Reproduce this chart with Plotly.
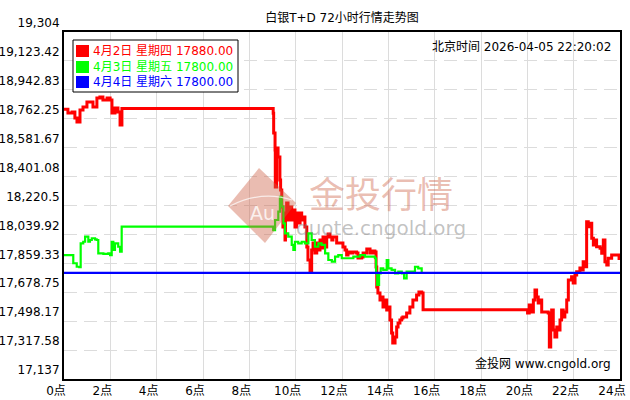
import plotly.graph_objects as go

# ---------------- data ----------------
red_name = "4月2日 星期四"
green_name = "4月3日 星期五"
blue_name = "4月4日 星期六"

red_hours = [0.00, 0.17, 0.35, 0.47, 0.56, 0.69, 0.82, 0.99, 1.12, 1.25, 1.42, 1.55, 1.68, 1.86, 1.99,
             2.07, 2.20, 2.33, 2.42, 2.50, 8.97, 9.03, 9.05, 9.11, 9.12, 9.18, 9.24, 9.32, 9.35, 9.40,
             9.45, 9.54, 9.56, 9.61, 9.67, 9.76, 9.83, 9.90, 9.97, 10.04, 10.10, 10.19, 10.26, 10.32,
             10.40, 10.48, 10.53, 10.62, 10.69, 10.75, 10.83, 10.91, 10.96, 11.05, 11.12, 11.18, 11.27,
             11.34, 11.40, 11.48, 11.56, 11.61, 11.77, 11.91, 12.04, 12.13, 12.20, 12.26, 12.34, 12.47,
             12.63, 12.69, 12.78, 12.85, 12.91, 13.07, 13.21, 13.34, 13.42, 13.47, 13.50, 13.55, 13.64,
             13.71, 13.77, 13.86, 13.93, 13.98, 14.07, 14.14, 14.19, 14.29, 14.36, 14.42, 14.50, 14.58,
             14.63, 14.79, 14.93, 15.06, 15.22, 15.32, 15.44, 15.50, 19.97, 20.01, 20.08, 20.16, 20.26,
             20.33, 20.40, 20.47, 20.54, 20.62, 20.84, 20.90, 20.95, 21.01, 21.05, 21.12, 21.19, 21.27,
             21.34, 21.41, 21.48, 21.55, 21.62, 21.70, 21.77, 21.84, 21.91, 21.98, 22.06, 22.13, 22.27,
             22.35, 22.41, 22.49, 22.56, 22.63, 22.70, 22.78, 22.85, 22.92, 22.99, 23.14, 23.21, 23.28,
             23.35, 23.43, 23.49, 23.57, 23.64, 23.85, 23.96]
red_prices = [18821, 18798, 18804, 18767, 18742, 18817, 18836, 18867, 18867, 18836, 18892, 18898, 18879, 18892, 18879,
              18798, 18829, 18804, 18723, 18826, 18826, 18796, 18673, 18567, 18336, 18580, 18523, 18380, 18317, 18211,
              18086, 18005, 18174, 18236, 18130, 18211, 18130, 18192, 18086, 18174, 18111, 18174, 18130, 18149,
              18086, 17961, 17880, 17805, 17943, 17986, 17924, 17986, 17943, 18005, 17955, 18024, 17961,
              18024, 18043, 18024, 18005, 18024, 17986, 17986, 17961, 17943, 17911, 17930, 17924, 17930,
              17924, 17893, 17893, 17899, 17924, 17949, 17924, 17936, 17930, 17836, 17712, 17674, 17630,
              17649, 17587, 17630, 17568, 17587, 17505, 17424, 17362, 17399, 17462, 17487, 17505, 17518,
              17524, 17549, 17587, 17630, 17662, 17680, 17674, 17570, 17570, 17549, 17599, 17555, 17630,
              17693, 17649, 17612, 17630, 17555, 17555, 17549, 17337, 17487, 17568, 17443, 17399, 17462,
              17443, 17505, 17568, 17524, 17555, 17630, 17755, 17755, 17776, 17737, 17786, 17807, 17830,
              17818, 17870, 17838, 18119, 18088, 18109, 18016, 17974, 18005, 17963, 17953, 17922, 18005,
              17870, 17849, 17891, 17891, 17911, 17911, 17880]

green_hours = [0.00, 0.33, 0.40, 0.55, 0.66, 0.72, 0.83, 0.91, 1.05, 1.12, 1.20, 1.34, 1.41, 1.48, 1.70,
               1.91, 1.99, 2.06, 2.13, 2.20, 2.34, 2.42, 2.49, 8.97, 9.03, 9.11, 9.25, 9.32, 9.40, 9.47,
               9.54, 9.68, 9.83, 9.90, 9.97, 10.11, 10.26, 10.40, 10.55, 10.69, 10.83, 10.98, 11.12, 11.27,
               11.41, 11.56, 11.70, 11.84, 11.99, 12.20, 12.49, 12.78, 12.99, 13.21, 13.42, 13.47, 13.52,
               13.60, 13.67, 13.78, 13.93, 14.00, 14.14, 14.29, 14.43, 14.58, 14.68, 14.79, 14.93, 15.15,
               15.29, 15.44]
green_prices = [17911, 17911, 17860, 17838, 17835, 17984, 17994, 18026, 17994, 18005, 18016, 18009, 18005, 17922, 17918,
                17922, 17911, 17994, 17943, 17984, 17963, 17932, 18088, 18088, 18067, 18130, 18182, 18275, 18213, 18109,
                18047, 18026, 17974, 17943, 17994, 17984, 17994, 17984, 18047, 18005, 17963, 17984, 17974, 17922,
                17880, 17870, 17901, 17911, 17891, 17891, 17901, 17911, 17901, 17901, 17891, 17797, 17724,
                17797, 17828, 17818, 17880, 17828, 17818, 17797, 17807, 17797, 17766, 17807, 17807, 17838,
                17828, 17800]

blue_hours = [0, 24]
blue_prices = [17800, 17800]

legend_prices = [17880.00, 17800.00, 17800.00]

x_tick_vals = [0, 2, 4, 6, 8, 10, 12, 14, 16, 18, 20, 22, 24]
x_tick_text = ["0点", "2点", "4点", "6点", "8点", "10点", "12点", "14点", "16点", "18点", "20点", "22点", "24点"]
y_tick_vals = [19304, 19123.42, 18942.83, 18762.25, 18581.67, 18401.08, 18220.5, 18039.92,
               17859.33, 17678.75, 17498.17, 17317.58, 17137]
y_tick_text = ["19,304", "19,123.42", "18,942.83", "18,762.25", "18,581.67", "18,401.08", "18,220.5",
               "18,039.92", "17,859.33", "17,678.75", "17,498.17", "17,317.58", "17,137"]

title_text = "白银T+D 72小时行情走势图"
time_text = "北京时间 2026-04-05 22:20:02"
source_text = "金投网 www.cngold.org"

assert len(red_hours) == len(red_prices)
assert len(green_hours) == len(green_prices)

# ---------------- layout helpers ----------------
W, H = 630, 400
PL, PR, PT, PB = 64, 10, 32, 21
PW, PH = W - PL - PR, H - PT - PB
FONT = "DejaVu Sans, Noto Sans CJK SC, sans-serif"


def px(x):
    return (x - PL) / PW


def py(y):
    return (PT + PH - y) / PH


fig = go.Figure()
series = [
    (red_name, red_hours, red_prices, "#ff0000", 3),
    (green_name, green_hours, green_prices, "#00ff00", 2.2),
    (blue_name, blue_hours, blue_prices, "#0000ff", 2.4),
]
for name, xs, ys, col, w in series:
    fig.add_trace(go.Scatter(x=xs, y=ys, mode="lines", name=name,
                             line=dict(color=col, width=w, shape="hv"), showlegend=False,
                             hoverinfo="skip"))

shapes = []
annotations = []

# watermark logo
wm_fill = "rgba(205,95,70,0.42)"
shapes.append(dict(type="path", xref="paper", yref="paper", layer="above",
                   path=f"M {px(228)},{py(206)} L {px(259)},{py(168)} L {px(296)},{py(203)} "
                        f"L {px(265)},{py(243)} Z",
                   fillcolor=wm_fill, line=dict(width=0)))
shapes.append(dict(type="path", xref="paper", yref="paper", layer="above",
                   path=f"M {px(230)},{py(206)} Q {px(262)},{py(190)} {px(292)},{py(200)}",
                   line=dict(color="rgba(255,255,255,0.7)", width=1.2)))
annotations.append(dict(x=px(262), y=py(213), xref="paper", yref="paper", text="Au",
                        showarrow=False, font=dict(family=FONT, size=19, color="rgba(255,255,255,0.8)")))
annotations.append(dict(x=px(381), y=py(192), xref="paper", yref="paper", text="金投行情",
                        showarrow=False, font=dict(family="Noto Sans CJK SC", size=36, color=wm_fill)))
annotations.append(dict(x=px(381), y=py(228), xref="paper", yref="paper", text="quote.cngold.org",
                        showarrow=False, font=dict(family=FONT, size=20, color="rgba(120,120,120,0.45)")))

# legend box
shapes.append(dict(type="rect", xref="paper", yref="paper", layer="above",
                   x0=px(73), x1=px(238), y0=py(40), y1=py(92),
                   fillcolor="white", line=dict(color="black", width=1)))
row_y = [51, 67, 82]
for (name, xs, ys, col, w), ry, lp in zip(series, row_y, legend_prices):
    shapes.append(dict(type="rect", xref="paper", yref="paper", layer="above",
                       x0=px(76), x1=px(89), y0=py(ry - 6), y1=py(ry + 6),
                       fillcolor=col, line=dict(width=0)))
    annotations.append(dict(x=px(91), y=py(ry), xref="paper", yref="paper",
                            text=f"{name} {lp:.2f}", xanchor="left", yanchor="middle",
                            showarrow=False, font=dict(family=FONT, size=12, color=col)))

annotations.append(dict(x=px(613), y=py(47), xref="paper", yref="paper", text=time_text,
                        xanchor="right", yanchor="middle", showarrow=False,
                        font=dict(family=FONT, size=12, color="black")))
annotations.append(dict(x=px(613), y=py(363), xref="paper", yref="paper", text=source_text,
                        xanchor="right", yanchor="middle", showarrow=False,
                        font=dict(family=FONT, size=12, color="black")))

fig.update_layout(
    width=W, height=H,
    margin=dict(l=PL, r=PR, t=PT, b=PB, pad=0),
    paper_bgcolor="white", plot_bgcolor="white",
    title=dict(text=title_text, x=px(342), xref="paper", xanchor="center",
               y=1 - 18 / H, yref="container", yanchor="middle",
               font=dict(family=FONT, size=12, color="black")),
    shapes=shapes, annotations=annotations,
    xaxis=dict(range=[0, 24], tickvals=x_tick_vals, ticktext=x_tick_text,
               showgrid=True, gridcolor="#dcdcdc", gridwidth=1,
               showline=True, linecolor="black", linewidth=2, mirror=True,
               ticks="", zeroline=False, automargin=False, ticklabelshift=-8,
               tickfont=dict(family=FONT, size=12, color="black")),
    yaxis=dict(range=[17137, 19304], tickvals=y_tick_vals, ticktext=y_tick_text,
               showgrid=True, gridcolor="#dcdcdc", gridwidth=1, griddash="13px,7px",
               showline=True, linecolor="black", linewidth=2, mirror=True,
               ticks="", zeroline=False, automargin=False, ticklabelshift=-9,
               tickfont=dict(family=FONT, size=12, color="black")),
)

fig.write_html("out.html", config={"displayModeBar": False},
               post_script="document.body.style.margin='0';document.body.style.padding='0';")
